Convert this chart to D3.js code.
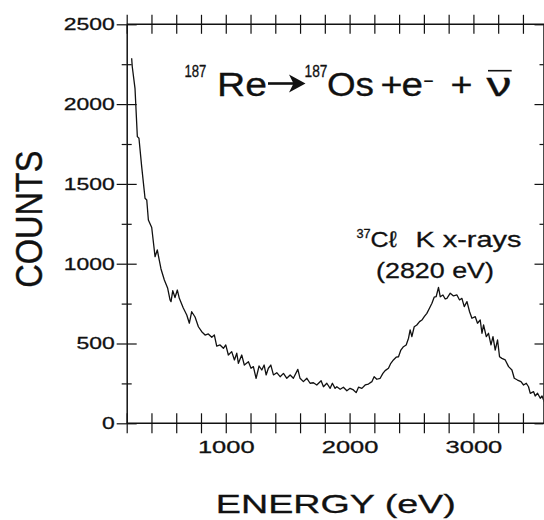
<!DOCTYPE html>
<html>
<head>
<meta charset="utf-8">
<script src="https://d3js.org/d3.v7.min.js"></script>
<style>
  body { margin: 0; background: #fff; }
  svg { font-family: "Liberation Sans", Arial, Helvetica, sans-serif; }
  .axis path, .axis line { stroke: #111; }
  .axis path { stroke-width: 1.5; }
  .axis line { stroke-width: 1.2; }
  .axis text { fill: #111; stroke: #111; stroke-width: 0.3; font-size: 17px; font-family: "Liberation Sans", Arial, sans-serif; }
  .lbl { fill: #111; stroke: #111; stroke-width: 0.3; }
</style>
</head>
<body>
<div id="chart"></div>
<script>
// spectrum (energy in eV, counts per channel)
const energy = [240,245,267,286,299,321,348,362,375,402,
  429,447,463,477,504,531,550,558,572,590,
  609,625,657,685,706,725,752,779,806,833,
  859,887,908,927,954,981,1000,1021,1048,1070,
  1089,1102,1129,1150,1183,1204,1223,1245,1269,1291,
  1310,1326,1344,1364,1385,1412,1439,1466,1493,1520,
  1546,1582,1600,1627,1655,1681,1708,1735,1770,1789,
  1816,1843,1861,1883,1897,1924,1950,1978,2004,2031,
  2053,2072,2099,2126,2152,2180,2198,2220,2247,2269,
  2287,2314,2333,2354,2376,2395,2414,2435,2457,2476,
  2489,2503,2522,2543,2565,2584,2603,2624,2645,2665,
  2683,2699,2718,2732,2754,2772,2786,2813,2839,2867,
  2888,2907,2926,2948,2969,2988,3015,3033,3055,3069,
  3082,3104,3122,3142,3158,3176,3195,3211,3230,3257,
  3284,3311,3330,3356,3384,3405,3427,3445,3459,3486,
  3499,3518,3540,3554,3572];

const counts = [2287,2234,2099,1796,1786,1608,1410,1399,1274,1227,
  1044,1086,1023,967,898,846,773,762,831,788,
  835,783,722,679,627,699,666,605,574,553,
  560,539,553,484,491,470,491,428,449,397,
  439,376,428,365,386,345,355,282,359,334,
  365,303,345,365,303,317,292,313,282,303,
  282,338,282,261,282,251,254,240,267,229,
  251,219,251,219,229,213,226,204,219,209,
  192,226,219,240,246,261,292,276,282,313,
  330,345,376,397,414,417,459,480,491,533,
  585,543,605,616,637,647,668,689,721,752,
  790,793,852,793,804,779,783,815,798,804,
  773,783,731,762,699,658,668,627,647,564,
  616,543,564,491,543,459,522,417,407,397,
  355,334,282,271,261,240,251,229,188,198,
  171,188,157,171,135];

const xTicks = d3.range(200, 3566, 200);
const xTickLabels = [1000, 2000, 3000];
const yTicks = d3.range(0, 2501, 250);
const yTickLabels = [0, 500, 1000, 1500, 2000, 2500];

const width = 544, height = 520;

const svg = d3.select("#chart").append("svg")
  .attr("width", width)
  .attr("height", height);

const x = d3.scaleLinear().domain([200, 3566]).range([126.7, 543.5]);
const y = d3.scaleLinear().domain([0, 2500]).range([423.3, 24.3]);

const [x0, x1] = x.range();
const [yb, yt] = y.range();

// horizontally stretch a text node around its anchor point
const stretch = (sel, sx) => {
  sel.each(function() {
    const t = d3.select(this);
    const tx = +t.attr("x") || 0;
    t.attr("x", 0).attr("transform", `translate(${tx},0) scale(${sx},1)`);
  });
};

// places text and scales it to a given width
const fitText = (parent, str, px, py, size, targetW, anchor) => {
  const g = parent.append("g").attr("transform", `translate(${px},${py})`);
  const t = g.append("text")
    .attr("class", "lbl")
    .attr("font-size", size)
    .attr("text-anchor", anchor || "start")
    .text(str);
  const w = t.node().getBBox().width;
  t.attr("transform", `scale(${targetW / w},1)`);
  return t;
};

//bottom axis: ticks across the line, labels every 1000
const bottomAx = svg.append("g")
  .attr("class", "axis")
  .attr("transform", `translate(0,${yb})`)
  .call(d3.axisBottom(x).tickValues(xTicks).tickSizeInner(10).tickSizeOuter(0).tickPadding(8)
    .tickFormat(d => xTickLabels.includes(d) ? d : ""));
bottomAx.select(".domain").attr("d", `M${x0},0H${width}`);
stretch(bottomAx.selectAll("text"), 1.5);
svg.append("g")
  .attr("class", "axis")
  .attr("transform", `translate(0,${yb})`)
  .call(d3.axisTop(x).tickValues(xTicks).tickSize(10).tickFormat(""))
  .select(".domain").remove();

//top frame
const topAx = svg.append("g")
  .attr("class", "axis")
  .attr("transform", `translate(0,${yt})`)
  .call(d3.axisTop(x).tickValues(xTicks).tickSize(9.5).tickFormat(""));
topAx.select(".domain").attr("d", `M${x0},0H${width}`);
svg.append("g")
  .attr("class", "axis")
  .attr("transform", `translate(0,${yt})`)
  .call(d3.axisBottom(x).tickValues(xTicks).tickSize(9.5).tickFormat(""))
  .select(".domain").remove();

//left axis: long ticks at 500, short at 250
const leftAx = svg.append("g")
  .attr("class", "axis")
  .attr("transform", `translate(${x0},0)`)
  .call(d3.axisLeft(y).tickValues(yTicks).tickSizeInner(10).tickSizeOuter(0).tickPadding(2)
    .tickFormat(d => yTickLabels.includes(d) ? d : ""));
leftAx.selectAll(".tick line").attr("x2", d => d % 500 === 0 ? -10 : -5);
stretch(leftAx.selectAll("text"), 1.35);
const leftIn = svg.append("g")
  .attr("class", "axis")
  .attr("transform", `translate(${x0},0)`)
  .call(d3.axisRight(y).tickValues(yTicks).tickSize(10).tickFormat(""));
leftIn.select(".domain").remove();
leftIn.selectAll(".tick line").attr("x2", d => d % 500 === 0 ? 10 : 5);

//right frame, ticks pointing inward
const rightAx = svg.append("g")
  .attr("class", "axis")
  .attr("transform", `translate(${x1},0)`)
  .call(d3.axisLeft(y).tickValues(yTicks).tickSizeInner(9).tickSizeOuter(0).tickFormat(""));
rightAx.selectAll(".tick line").attr("x2", d => d % 500 === 0 ? -9 : -4);
rightAx.select(".domain").attr("stroke-width", 1);

// spectrum
svg.append("clipPath").attr("id", "plot")
  .append("rect").attr("x", x0).attr("y", yt).attr("width", x1 - x0).attr("height", yb - yt);

const line = d3.line()
  .x((d, i) => x(energy[i]))
  .y(d => y(d));

svg.append("path")
  .datum(counts)
  .attr("clip-path", "url(#plot)")
  .attr("fill", "none")
  .attr("stroke", "#111")
  .attr("stroke-width", 1.3)
  .attr("stroke-linejoin", "round")
  .attr("d", line);

//axis titles
fitText(svg, "ENERGY (eV)", 335.8, 513.3, 25.6, 240, "middle");

const yTitle = svg.append("g").attr("transform", "translate(41.7,219.2) rotate(-90)");
yTitle.append("text")
  .attr("class", "lbl")
  .attr("font-size", 26)
  .attr("text-anchor", "middle")
  .attr("transform", "scale(1.25,1.43)")
  .text("COUNTS");

// decay equation
const eq = svg.append("g");
fitText(eq, "187", 184.5, 76.7, 16, 22);
fitText(eq, "Re", 217, 96, 33, 50);
eq.append("rect").attr("x", 268).attr("y", 82.2).attr("width", 26).attr("height", 2.6).attr("fill", "#111");
eq.append("path").attr("d", "M289,74.5L305.5,83.5L289,92.5L293.5,83.5Z").attr("fill", "#111");
fitText(eq, "187", 304.5, 77, 16, 23);
fitText(eq, "Os", 327, 96, 33, 47);
fitText(eq, "+", 380.5, 96, 33, 22);
fitText(eq, "e", 401.5, 96, 33, 21.5);
fitText(eq, "\u2212", 423.5, 87, 18, 10);
fitText(eq, "+", 450.5, 96, 33, 22);
fitText(eq, "\u03BD", 486.5, 96, 33, 25);
eq.append("line").attr("x1", 488).attr("x2", 511.7).attr("y1", 70.7).attr("y2", 70.7)
  .attr("stroke", "#111").attr("stroke-width", 1.6);

// peak annotation
fitText(svg, "37", 356.5, 238.3, 12, 14.5);
fitText(svg, "C\u2113", 370.5, 246.7, 22.5, 27);
fitText(svg, "K x-rays", 415.5, 246.7, 22.5, 106);
fitText(svg, "(2820 eV)", 376, 278.3, 22.5, 118);
</script>
</body>
</html>
